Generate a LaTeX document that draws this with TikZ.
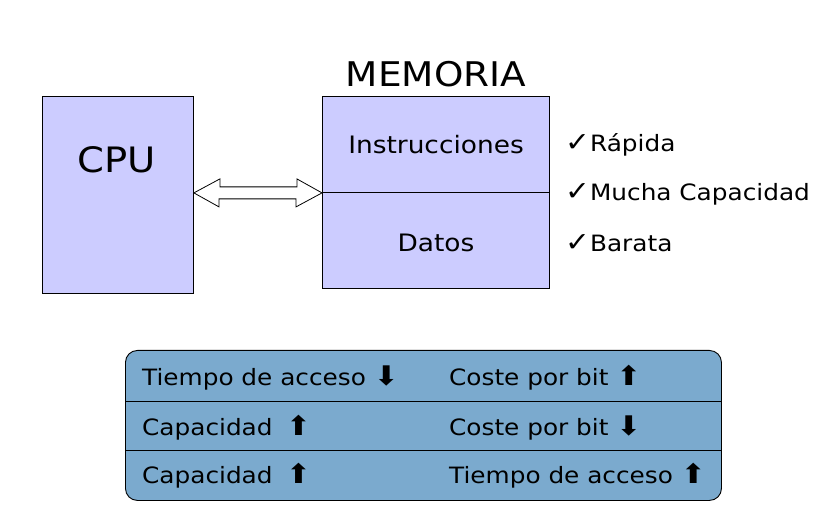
\documentclass[tikz,border=0pt]{standalone}
\usepackage{fontspec}
\setmainfont[FakeStretch=1.1]{DejaVu Sans}
\usetikzlibrary{positioning}
\definecolor{lavanda}{RGB}{204,204,255}
\definecolor{azultabla}{RGB}{123,170,206}
\newcommand{\sube}{{\fontsize{27}{30}\selectfont ⬆}}
\newcommand{\baja}{{\fontsize{27}{30}\selectfont ⬇}}

\begin{document}
\begin{tikzpicture}[x=1pt,y=-1pt,
		caja/.style={draw, fill=lavanda, line width=0.9pt, inner sep=0pt, anchor=north west},
		texto/.style={font=\fontsize{24}{28}\selectfont, inner sep=0pt},
		fila/.style={font=\fontsize{22.5}{27}\selectfont, inner sep=0pt, anchor=west}]
			\useasboundingbox (0,0) rectangle (814,526);
			% CPU y memoria
			\node[caja, minimum width=151pt, minimum height=197pt] (cpu) at (42,96) {};
			\node[font=\fontsize{35}{40}\selectfont, inner sep=0pt] (cputxt) at (117,160) {CPU};
			\node[caja, minimum width=227pt, minimum height=96pt] (inst) at (322,96) {};
			\node[caja, minimum width=227pt, minimum height=96pt] (datos) at (322,192) {};
			\node[font=\fontsize{34}{38}\selectfont, inner sep=0pt] (memtxt) at (436,74) {MEMORIA};
			\node[texto] (insttxt) at (436,145) {Instrucciones};
			\node[texto] (datostxt) at (436,243) {Datos};
			% bus
			\coordinate (izq) at (cpu.east |- inst.south);
			\coordinate (der) at (inst.south west);
			\draw[fill=white, line width=0.8pt] (izq) -- ++(26,-14) -- ++(0,8) -- ++(77,0) -- ++(0,-8) -- (der)
				-- ++(-26,14) -- ++(0,-8) -- ++(-77,0) -- ++(0,8) -- cycle;
			% ventajas
			\node[fila] (rapida) at (565,145) {{\fontsize{27}{30}\selectfont ✓}Rápida};
			\node[fila] (mucha) at (565,194) {{\fontsize{27}{30}\selectfont ✓}Mucha Capacidad};
			\node[fila] (barata) at (565,243) {{\fontsize{27}{30}\selectfont ✓}Barata};
			% tabla
			\node[draw, fill=azultabla, line width=0.9pt, rounded corners=12pt, inner sep=0pt,
				minimum width=596pt, minimum height=150pt, anchor=north west] (tabla) at (125,350) {};
			\draw[line width=0.7pt] (125,401) -- (721,401);
			\draw[line width=0.7pt] (125,450) -- (721,450);
			\node[fila] (t1) at (142,378) {Tiempo de acceso \baja};
			\node[fila] (c1) at (449,378) {Coste por bit \sube};
			\node[fila] (t2) at (142,428) {Capacidad\hspace{0.6em}\sube};
			\node[fila] (c2) at (449,428) {Coste por bit \baja};
			\node[fila] (t3) at (142,476) {Capacidad\hspace{0.6em}\sube};
			\node[fila] (c3) at (449,476) {Tiempo de acceso \sube};
		\end{tikzpicture}
\end{document}
